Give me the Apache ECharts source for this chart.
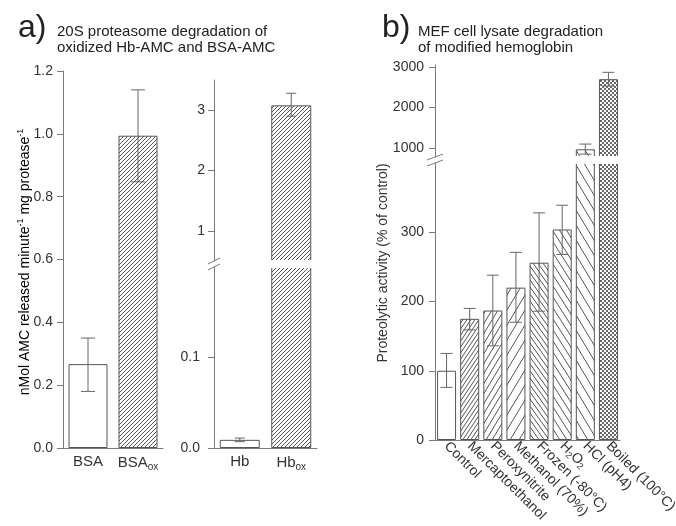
<!DOCTYPE html>
<html><head><meta charset="utf-8">
<script src="https://cdn.jsdelivr.net/npm/echarts@6/dist/echarts.min.js"></script>
<style>html,body{margin:0;padding:0;background:#fff}#c{width:676px;height:526px}</style>
</head><body><div id="c"></div>
<script>
// ---- data ----
const aLeftCats = ['BSA', 'BSAox'];
const aLeftVals = [0.267, 0.994];
const aLeftLow = [0.18, 0.847];
const aLeftHigh = [0.35, 1.14];

const aRightCats = ['Hb', 'Hbox'];
const aRightVals = [0.009, 3.08];
const aRightLow = [0.007, 2.9];
const aRightHigh = [0.011, 3.28];

const bCats = ['Control', 'Mercaptoethanol', 'Peroxynitrite', 'Methanol (70%)', 'Frozen (-80°C)', 'H2O2', 'HCl (pH4)', 'Boiled (100°C)'];
const bVals = [100, 175, 187, 220, 256, 304, 970, 2700];
const bLow = [76, 159, 136, 170, 186, 268, 850, 2531];
const bHigh = [125, 190, 238, 271, 328, 339, 1099, 2869];

const aLeftTicks = [0, 0.2, 0.4, 0.6, 0.8, 1.0, 1.2];
const aUpperTicks = [1, 2, 3];
const aLowerTicks = [0, 0.1];
const bUpperTicks = [1000, 2000, 3000];
const bLowerTicks = [0, 100, 200, 300];

// ---- patterns ----
function hatch(w, h, dir, color) {
  const c = document.createElement('canvas');
  c.width = w; c.height = h;
  const g = c.getContext('2d');
  g.fillStyle = '#fff'; g.fillRect(0, 0, w, h);
  g.strokeStyle = color || '#555'; g.lineWidth = 1;
  for (let k = -1; k <= 1; k++) {
    g.beginPath();
    if (dir === '/') { g.moveTo(k * w, h); g.lineTo(w + k * w, 0); }
    else { g.moveTo(k * w, 0); g.lineTo(w + k * w, h); }
    g.stroke();
  }
  return { image: c, repeat: 'repeat' };
}
function checker() {
  const c = document.createElement('canvas');
  c.width = 4; c.height = 4;
  const g = c.getContext('2d');
  g.fillStyle = '#fff'; g.fillRect(0, 0, 4, 4);
  g.fillStyle = '#666'; g.fillRect(0, 0, 2, 2); g.fillRect(2, 2, 2, 2);
  return { image: c, repeat: 'repeat' };
}
const aLeftFill = ['#fff', hatch(4, 4, '/')];
const aRightFill = ['#fff', hatch(4, 4, '/')];
const bFill = ['#fff', hatch(4, 6, '/'), hatch(6, 10, '/'), hatch(9, 15, '/'),
  hatch(5, 7, '\\'), hatch(7, 11, '\\'), hatch(9, 15, '\\'), checker()];

const FONT = 'Liberation Sans, Arial, sans-serif';
const AX = '#7a7a7a';
const TXT = '#333';
const BORDER = '#555';

function catFmt(v) {
  if (v.endsWith('ox')) return '{n|' + v.slice(0, -2) + '}{s|ox}';
  if (v === 'H2O2') return '{n|H}{s|2}{n|O}{s|2}';
  return '{n|' + v + '}';
}
const richA = { n: { fontSize: 15, color: TXT, fontFamily: FONT }, s: { fontSize: 10, color: TXT, fontFamily: FONT, verticalAlign: 'bottom', padding: [8, 0, 0, 0] } };
const richB = { n: { fontSize: 14, color: TXT, fontFamily: FONT }, s: { fontSize: 9, color: TXT, fontFamily: FONT, verticalAlign: 'bottom', padding: [7, 0, 0, 0] } };

function xCat(grid, cats, show, rich, rotate) {
  return {
    type: 'category', gridIndex: grid, data: cats, show: show,
    axisLine: { show: true, lineStyle: { color: AX, width: 1 } },
    axisTick: { show: false },
    axisLabel: { show: show, interval: 0, rotate: rotate || 0, margin: rotate ? 4 : 6, formatter: catFmt, rich: rich }
  };
}
function yVal(grid, min, max, ticks, fmt, margin) {
  return {
    type: 'value', gridIndex: grid, min: min, max: max,
    axisLine: { show: true, lineStyle: { color: AX, width: 1 } },
    axisTick: { show: true, length: 6, customValues: ticks, lineStyle: { color: AX } },
    axisLabel: { customValues: ticks, formatter: fmt, margin: margin, color: TXT, fontSize: 14, fontFamily: FONT },
    splitLine: { show: false }
  };
}

function errItem(cap) {
  return function (params, api) {
    const x = api.value(0);
    const lo = api.coord([x, api.value(1)]);
    const hi = api.coord([x, api.value(2)]);
    const c = cap / 2;
    const st = { stroke: '#666', lineWidth: 1 };
    return {
      type: 'group', children: [
        { type: 'line', shape: { x1: lo[0], y1: lo[1], x2: hi[0], y2: hi[1] }, style: st },
        { type: 'line', shape: { x1: hi[0] - c, y1: hi[1], x2: hi[0] + c, y2: hi[1] }, style: st },
        { type: 'line', shape: { x1: lo[0] - c, y1: lo[1], x2: lo[0] + c, y2: lo[1] }, style: st }
      ]
    };
  };
}
function barS(ax, vals, fills, width) {
  return {
    type: 'bar', xAxisIndex: ax, yAxisIndex: ax, barWidth: width, clip: true, silent: true,
    data: vals.map((v, i) => ({ value: v, itemStyle: { color: fills[i] } })),
    itemStyle: { borderColor: BORDER, borderWidth: 1 }
  };
}
function errS(ax, low, high, cap) {
  return {
    type: 'custom', xAxisIndex: ax, yAxisIndex: ax, clip: true, silent: true, z: 5,
    renderItem: errItem(cap), data: low.map((l, i) => [i, l, high[i]])
  };
}

const chart = echarts.init(document.getElementById('c'), null, { renderer: 'canvas' });
chart.setOption({
  animation: false,
  backgroundColor: '#fff',
  grid: [
    { left: 63, top: 71, width: 100, height: 377, outerBoundsMode: 'none' },
    { left: 214, top: 80, width: 103, height: 181, outerBoundsMode: 'none' },
    { left: 214, top: 267, width: 103, height: 181, outerBoundsMode: 'none' },
    { left: 435, top: 65, width: 185, height: 92, outerBoundsMode: 'none' },
    { left: 435, top: 163, width: 185, height: 277, outerBoundsMode: 'none' }
  ],
  xAxis: [
    xCat(0, aLeftCats, true, richA),
    xCat(1, aRightCats, false, richA),
    xCat(2, aRightCats, true, richA),
    xCat(3, bCats, false, richB),
    xCat(4, bCats, true, richB, -45)
  ],
  yAxis: [
    yVal(0, 0, 1.2, aLeftTicks, v => v.toFixed(1), 10),
    yVal(1, 0.5, 3.5, aUpperTicks, v => String(v), 9),
    yVal(2, 0, 0.2, aLowerTicks, v => v.toFixed(1), 14),
    yVal(3, 780, 3050, bUpperTicks, v => String(v), 11),
    yVal(4, 0, 400, bLowerTicks, v => String(v), 11)
  ],
  series: [
    barS(0, aLeftVals, aLeftFill, 39),
    barS(1, aRightVals, aRightFill, 40),
    barS(2, aRightVals, aRightFill, 40),
    barS(3, bVals, bFill, 19),
    barS(4, bVals, bFill, 19),
    errS(0, aLeftLow, aLeftHigh, 14),
    errS(1, aRightLow, aRightHigh, 10),
    errS(2, aRightLow, aRightHigh, 10),
    errS(3, bLow, bHigh, 12),
    errS(4, bLow, bHigh, 12)
  ],
  graphic: [
    { type: 'text', left: 18, top: 12, style: { text: 'a)', font: '32px ' + FONT, fill: '#222' } },
    { type: 'text', x: 57, y: 32, style: { text: '20S proteasome degradation of', font: '15px ' + FONT, fill: '#222', verticalAlign: 'middle' } },
    { type: 'text', x: 57, y: 48, style: { text: 'oxidized Hb-AMC and BSA-AMC', font: '15px ' + FONT, fill: '#222', verticalAlign: 'middle' } },
    { type: 'text', left: 382, top: 12, style: { text: 'b)', font: '32px ' + FONT, fill: '#222' } },
    { type: 'text', x: 418, y: 32, style: { text: 'MEF cell lysate degradation', font: '15px ' + FONT, fill: '#222', verticalAlign: 'middle' } },
    { type: 'text', x: 418, y: 48, style: { text: 'of modified hemoglobin', font: '15px ' + FONT, fill: '#222', verticalAlign: 'middle' } },
    { type: 'text', x: 25, y: 262, rotation: Math.PI / 2,
      style: { text: '{n|nMol AMC released minute}{u|-1}{n| mg protease}{u|-1}', align: 'center', verticalAlign: 'middle',
        rich: { n: { fontSize: 14, fontFamily: FONT, color: TXT }, u: { fontSize: 9, fontFamily: FONT, color: TXT, verticalAlign: 'top', padding: [0, 0, 8, 0] } } } },
    { type: 'text', x: 383, y: 263, rotation: Math.PI / 2,
      style: { text: 'Proteolytic activity (% of control)', align: 'center', verticalAlign: 'middle', font: '14px ' + FONT, fill: TXT } },
    // white gaps at the axis breaks (hide clipped bar edges)
    { type: 'rect', z: 100, shape: { x: 216, y: 260, width: 104, height: 8 }, style: { fill: '#fff' } },
    { type: 'rect', z: 100, shape: { x: 437, y: 156, width: 186, height: 8 }, style: { fill: '#fff' } },
    // axis break marks
    { type: 'line', z: 101, shape: { x1: 208, y1: 264, x2: 220, y2: 258 }, style: { stroke: AX, lineWidth: 1 } },
    { type: 'line', z: 101, shape: { x1: 208, y1: 270, x2: 220, y2: 264 }, style: { stroke: AX, lineWidth: 1 } },
    { type: 'line', z: 101, shape: { x1: 427, y1: 160, x2: 443, y2: 154 }, style: { stroke: AX, lineWidth: 1 } },
    { type: 'line', z: 101, shape: { x1: 427, y1: 166, x2: 443, y2: 160 }, style: { stroke: AX, lineWidth: 1 } }
  ]
});
</script></body></html>
